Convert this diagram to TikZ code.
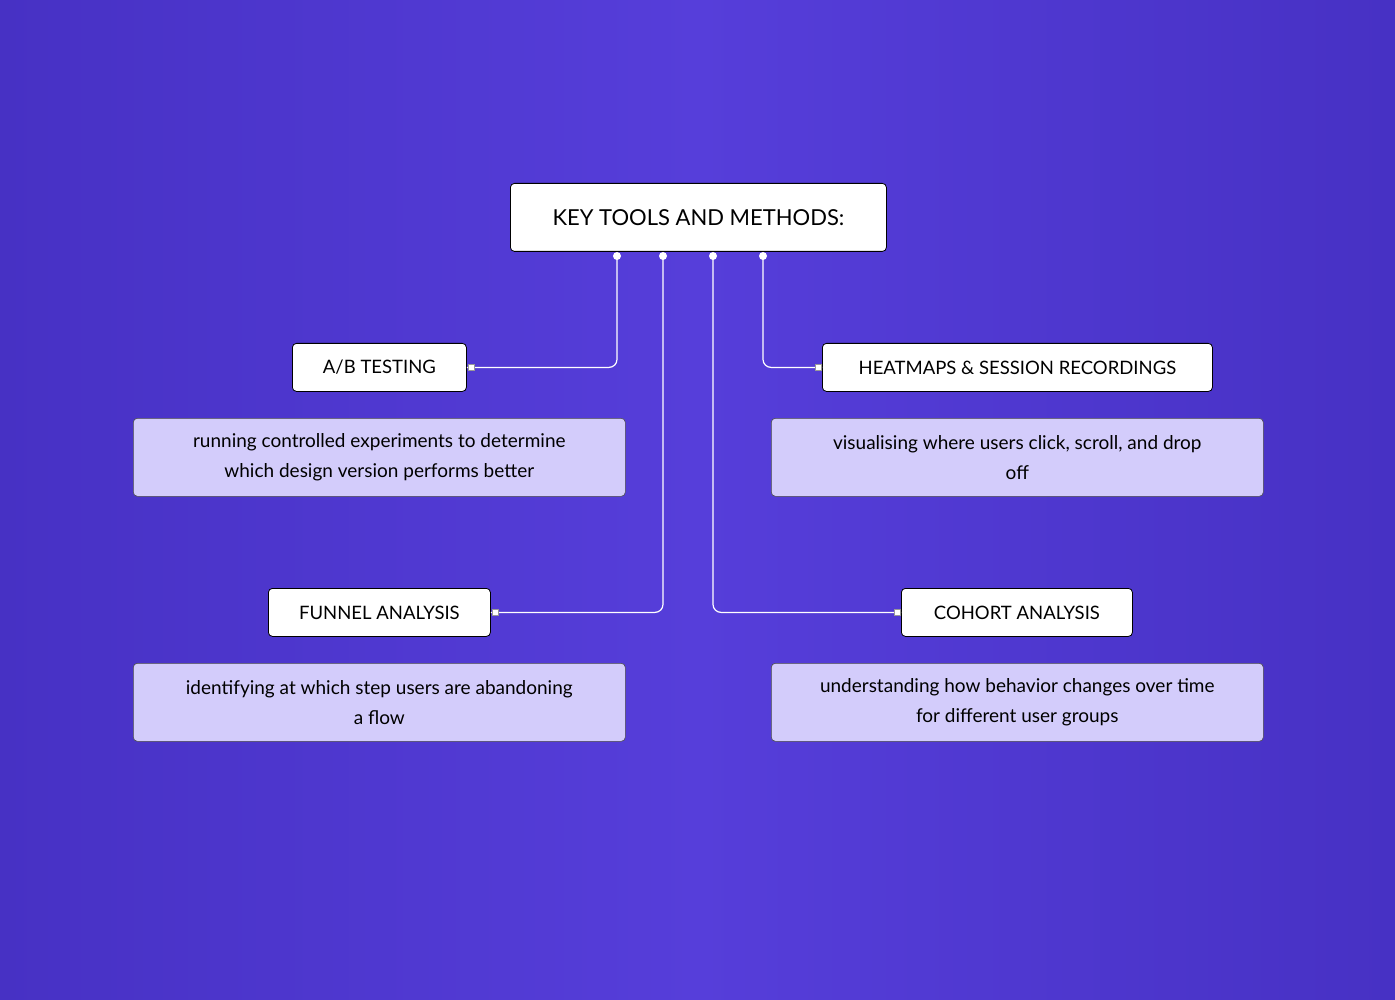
\documentclass[tikz,border=0pt]{standalone}
\usepackage{fontspec}
\setmainfont{Lato}
\begin{document}
\begin{tikzpicture}[x=1pt,y=-1pt,
  titlebox/.style={draw=black,fill=white,rounded corners=4pt,line width=0.8pt,anchor=north west,inner sep=0pt,font=\fontsize{22}{26}\selectfont},
  labelbox/.style={draw=black,fill=white,rounded corners=4pt,line width=0.8pt,anchor=north west,inner sep=0pt,font=\fontsize{18.5}{22}\selectfont},
  descbox/.style={draw=black!70,fill=lav,rounded corners=4pt,line width=0.6pt,anchor=north west,inner sep=0pt,align=center,font=\fontsize{19}{30}\selectfont},
  conn/.style={draw=white,line width=1.2pt,rounded corners=8pt},
  dot/.style={circle,fill=white,inner sep=0pt,minimum size=8pt},
  sq/.style={fill=white,draw=black!40,line width=0.3pt,inner sep=0pt,minimum size=6pt}]
\definecolor{bgA}{HTML}{4731C4}
\definecolor{bgB}{HTML}{563EDA}
\definecolor{lav}{HTML}{D3CCFB}
\shade[left color=bgA,right color=bgB,middle color=bgB] (0,0) rectangle (1395,1000);
\shade[left color=bgB,right color=bgA] (697,0) rectangle (1395,1000);
\useasboundingbox (0,0) rectangle (1395,1000);
\node[titlebox,minimum width=376pt,minimum height=68pt] (t) at (510,183) {KEY TOOLS AND METHODS:};
\node[labelbox,minimum width=174pt,minimum height=48pt] (ab) at (292,343) {A/B TESTING};
\node[labelbox,minimum width=390pt,minimum height=48pt] (hm) at (822,343) {HEATMAPS \& SESSION RECORDINGS};
\node[labelbox,minimum width=222pt,minimum height=48pt] (fa) at (268,588) {FUNNEL ANALYSIS};
\node[labelbox,minimum width=231pt,minimum height=48pt] (ca) at (901,588) {COHORT ANALYSIS};
\node[descbox,minimum width=492pt,minimum height=78pt] (d1) at (133,418) {running controlled experiments to determine\\which design version performs better};
\node[descbox,minimum width=492pt,minimum height=78pt] (d2) at (771,418) {visualising where users click, scroll, and drop\\off};
\node[descbox,minimum width=492pt,minimum height=78pt] (d3) at (133,663) {identifying at which step users are abandoning\\a flow};
\node[descbox,minimum width=492pt,minimum height=78pt] (d4) at (771,663) {understanding how behavior changes over time\\for different user groups};
\coordinate (p1) at (617,256);
\coordinate (p2) at (663,256);
\coordinate (p3) at (713,256);
\coordinate (p4) at (763,256);
\draw[conn] (p1) |- (ab.east);
\draw[conn] (p2) |- (fa.east);
\draw[conn] (p3) |- (ca.west);
\draw[conn] (p4) |- (hm.west);
\foreach \p in {p1,p2,p3,p4} \node[dot] at (\p) {};
\node[sq] at ([xshift=4pt]ab.east) {};
\node[sq] at ([xshift=4pt]fa.east) {};
\node[sq] at ([xshift=-4pt]ca.west) {};
\node[sq] at ([xshift=-4pt]hm.west) {};
\end{tikzpicture}
\end{document}
